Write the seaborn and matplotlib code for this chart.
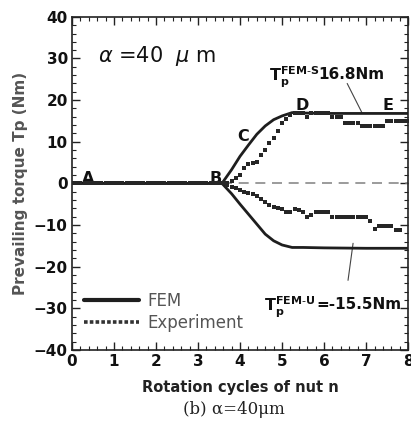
import matplotlib
matplotlib.use("Agg")
import matplotlib.pyplot as plt
from matplotlib.lines import Line2D
from matplotlib.ticker import MultipleLocator
import seaborn as sns
import pandas as pd

# ---- data ----
fem_x = [0, 3.57, 3.8, 4.0, 4.2, 4.4, 4.6, 4.8, 5.0, 5.24, 5.5, 6.0, 7.0, 8.0]
fem_s = [0, 0, 3.3, 6.5, 9.2, 11.8, 13.8, 15.3, 16.2, 17.0, 16.9, 16.8, 16.8, 16.8]
fem_u = [0, 0, -2.5, -5.0, -7.4, -9.8, -12.2, -13.8, -14.8, -15.4, -15.4, -15.5, -15.6, -15.6]

exp_x0 = [0.0, 0.1, 0.2, 0.3, 0.4, 0.5, 0.6, 0.7, 0.8, 0.9, 1.0, 1.1, 1.2, 1.3, 1.4,
          1.5, 1.6, 1.7, 1.8, 1.9, 2.0, 2.1, 2.2, 2.3, 2.4, 2.5, 2.6, 2.7, 2.8, 2.9,
          3.0, 3.1, 3.2, 3.3, 3.4, 3.5, 3.6]
exp_y0 = [0, 0, 0, 0, 0, 0, 0, 0, 0, 0, 0, 0, 0, 0, 0, 0, 0, 0, 0, 0,
          0, 0, 0, 0, 0, 0, 0, 0, 0, 0, 0, 0, 0, 0, 0, 0, 0]

exp_xs = [3.7, 3.8, 3.9, 4.0, 4.1, 4.2, 4.3, 4.4, 4.5, 4.6, 4.7, 4.8, 4.9, 5.0, 5.1,
          5.2, 5.3, 5.4, 5.5, 5.6, 5.7, 5.8, 5.9, 6.0, 6.1, 6.2, 6.3, 6.4, 6.5, 6.6,
          6.7, 6.8, 6.9, 7.0, 7.1, 7.2, 7.3, 7.4, 7.5, 7.6, 7.7, 7.8, 7.9, 8.0]
exp_s = [0.2, 0.6, 1.2, 1.9, 3.6, 4.6, 5.0, 5.2, 6.8, 8.0, 9.7, 10.8, 12.7, 14.5, 15.5,
         16.4, 16.9, 17.0, 17.0, 16.0, 17.0, 17.0, 17.0, 17.0, 16.8, 16.0, 16.0, 16.0, 14.4, 14.4,
         14.4, 14.4, 13.7, 13.7, 13.7, 13.7, 13.7, 13.7, 14.9, 14.9, 14.9, 14.9, 14.9, 14.9]

exp_xu = [3.7, 3.8, 3.9, 4.0, 4.1, 4.2, 4.3, 4.4, 4.5, 4.6, 4.7, 4.8, 4.9, 5.0, 5.1,
          5.2, 5.3, 5.4, 5.5, 5.6, 5.7, 5.8, 5.9, 6.0, 6.1, 6.2, 6.3, 6.4, 6.5, 6.6,
          6.7, 6.8, 6.9, 7.0, 7.1, 7.2, 7.3, 7.4, 7.5, 7.6, 7.7, 7.8]
exp_u = [-0.3, -0.8, -1.2, -1.5, -2.0, -2.3, -2.6, -3.0, -3.8, -4.5, -5.2, -5.6, -6.0, -6.2, -6.8,
         -7.0, -6.2, -6.4, -7.0, -8.2, -7.5, -7.0, -7.0, -7.0, -7.0, -8.2, -8.2, -8.2, -8.2, -8.2,
         -8.2, -8.2, -8.2, -8.2, -9.0, -11.0, -10.3, -10.3, -10.3, -10.3, -11.3, -11.3]

x_ticks = [0, 1, 2, 3, 4, 5, 6, 7, 8]
y_ticks = [-40, -30, -20, -10, 0, 10, 20, 30, 40]
point_labels = ["A", "B", "C", "D", "E"]
point_x = [0.38, 3.42, 4.07, 5.47, 7.53]
point_y = [1.2, 1.2, 11.3, 18.7, 18.7]

# ---- figure ----
sns.set_theme(style="ticks")
plt.rcParams['font.family'] = ['DejaVu Sans']
fig = plt.figure(figsize=(4.11, 4.22), dpi=100)
ax = fig.add_axes([0.175, 0.171, 0.818, 0.789])

dark = "#1e1e1e"
ax.axhline(0, color="#8a8a8a", lw=1.2, ls=(0, (6, 4)), zorder=1)

df_fem_s = pd.DataFrame({"x": fem_x, "y": fem_s})
df_fem_u = pd.DataFrame({"x": fem_x, "y": fem_u})
sns.lineplot(data=df_fem_s, x="x", y="y", ax=ax, color=dark, lw=2.0,
             estimator=None, sort=False, zorder=3)
sns.lineplot(data=df_fem_u, x="x", y="y", ax=ax, color=dark, lw=2.0,
             estimator=None, sort=False, zorder=3)

df_exp = pd.DataFrame({"x": exp_x0 + exp_xs + exp_xu,
                       "y": exp_y0 + exp_s + exp_u})
sns.scatterplot(data=df_exp, x="x", y="y", ax=ax, marker="s", s=7,
                color="#262626", linewidth=0, zorder=4)

ax.set_xlim(0, 8)
ax.set_ylim(-40, 40)
ax.set_xticks(x_ticks)
ax.set_yticks(y_ticks)
ax.set_xticklabels([str(v) for v in x_ticks])
ax.set_yticklabels([str(v).replace("-", "\u2212") for v in y_ticks])
ax.xaxis.set_minor_locator(MultipleLocator(0.2))
ax.yaxis.set_minor_locator(MultipleLocator(2))
ax.tick_params(which="both", direction="in", top=True, right=True, color="#222")
ax.tick_params(which="major", length=6, width=1.0, labelsize=11, pad=3)
ax.tick_params(which="minor", length=3, width=0.8)
for lab in ax.get_xticklabels() + ax.get_yticklabels():
    lab.set_fontweight("bold")
    lab.set_color("#111")
for sp in ax.spines.values():
    sp.set_color("#222")
    sp.set_linewidth(1.2)

ax.set_xlabel("Rotation cycles of nut n", fontsize=10.5, fontweight="bold",
              color="#222", labelpad=8)
ax.set_ylabel("Prevailing torque Tp (Nm)", fontsize=11, fontweight="bold",
              color="#555", labelpad=4)

# annotations
ax.text(0.62, 30.5, r"$\alpha$ =40  $\mu$ m", fontsize=15, color="#111", va="center")
for lab, px, py in zip(point_labels, point_x, point_y):
    ax.text(px, py, lab, fontsize=11.5, fontweight="bold", color="#111",
            ha="center", va="center")

ax.text(4.7, 25.5, r"$\mathbf{T_p^{FEM\text{-}S}}$", fontsize=11.5, color="#111", va="center")
ax.text(5.86, 26.2, "16.8Nm", fontsize=11, fontweight="bold", color="#111", va="center")
ax.plot([6.55, 6.9], [24.0, 17.0], color="#444", lw=0.8)

ax.text(4.58, -29.8, r"$\mathbf{T_p^{FEM\text{-}U}}$", fontsize=11.5, color="#111", va="center")
ax.text(5.82, -29.0, "=-15.5Nm", fontsize=11, fontweight="bold", color="#111", va="center")
ax.plot([6.57, 6.69], [-23.3, -14.4], color="#444", lw=0.8)

handles = [Line2D([0], [0], color=dark, lw=3.0),
           Line2D([0], [0], color="#333", lw=2.6, ls=(0, (1, 0.6)))]
leg = ax.legend(handles, ["FEM", "Experiment"], loc="lower left",
                bbox_to_anchor=(0.0, 0.02), frameon=False, fontsize=12,
                handlelength=3.3, handletextpad=0.5, labelspacing=0.2,
                borderaxespad=0.3)
for t in leg.get_texts():
    t.set_color("#555")

fig.text(0.57, 0.018, "(b) \u03b1=40\u03bcm", fontsize=12, family="DejaVu Serif",
         ha="center", color="#222")

fig.savefig("out.png", dpi=100)
